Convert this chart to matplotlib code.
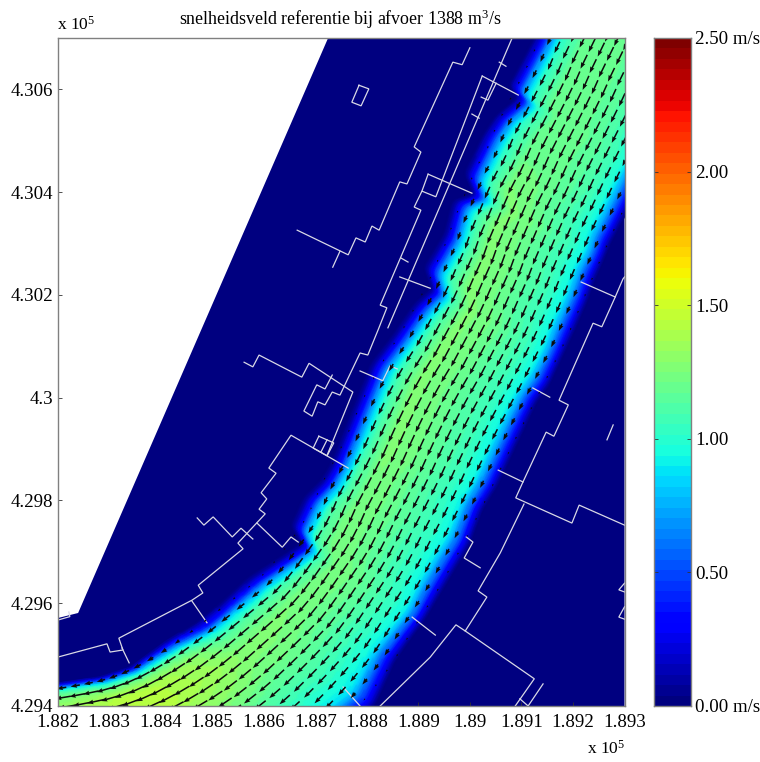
import numpy as np
import matplotlib
matplotlib.use("Agg")
import matplotlib.pyplot as plt

plt.rcParams['font.family'] = ['Liberation Serif', 'DejaVu Serif']
plt.rcParams['mathtext.fontset'] = 'custom'
plt.rcParams['mathtext.rm'] = 'Liberation Serif'
plt.rcParams['mathtext.default'] = 'rm'

# Map origin (m); every coordinate below is metres east / north of it
X0, Y0 = 188200, 429400
XMAX, YMAX = 1100, 1300

# River stations: left bank and right bank
left_x = [994, 923, 874, 891, 849, 825, 787, 804, 765, 748, 709, 723, 690, 645, 606,
          554, 529, 509, 476, 451, 470, 432, 368, 302, 268, 212, 141, 82, 1, -170]
left_y = [1452, 1300, 1208, 1185, 1150, 1115, 1037, 998, 985, 920, 854, 813, 784, 718, 668,
          537, 473, 440, 407, 352, 317, 292, 251, 190, 162, 128, 76, 57, 45, 21]
right_x = [1277, 1206, 1157, 1146, 1130, 1111, 1072, 1062, 1043, 1027, 1000, 979, 955, 930, 907,
           853, 825, 800, 775, 742, 713, 684, 655, 616, 568, 519, 412, 276, 121, -112]
right_y = [1316, 1164, 1072, 1047, 1014, 973, 897, 872, 829, 784, 722, 677, 625, 590, 541,
           426, 381, 313, 271, 216, 167, 128, 86, 0, -37, -76, -163, -202, -241, -280]

# Depth-averaged speed (m/s) at fractions of the river width, per station
width_frac = [0, .05, .1, .17, .3, .45, .6, .75, .85, .92, 1]
speed_top = [0, .25, .68, 1.02, 1.2, 1.2, 1.16, 1.08, .95, .58, 0]
speed_mid = [0, .22, .65, 1.05, 1.27, 1.22, 1.14, 1.05, .93, .58, 0]
speed_low = [0, .22, .68, 1.08, 1.25, 1.2, 1.12, 1.03, .92, .55, 0]
speed_bend = [0, .32, .88, 1.15, 1.28, 1.22, 1.12, 1.0, .88, .5, 0]
speed_a = [0, .6, 1.1, 1.3, 1.35, 1.28, 1.15, 1.02, .9, .5, 0]
speed_b = [0, .9, 1.25, 1.42, 1.42, 1.32, 1.2, 1.0, .9, .5, 0]
speed_c = [0, 1.05, 1.25, 1.35, 1.4, 1.35, 1.2, 1.0, .9, .5, 0]
station_speeds = [speed_top] * 6 + [speed_mid] * 10 + [speed_low] * 7 + \
                 [speed_bend] * 2 + [speed_a] + [speed_b] * 2 + [speed_c] * 2

# Dry-land limit of the model domain
domain_x = [525, 40, 0, 0, 1100, 1100]
domain_y = [1300, 181, 171, 0, 0, 1300]

# Groynes, quays and other map lines
map_lines = [
    ([800, 785, 767, 692, 705, 678, 664, 624, 610, 597, 579, 564, 465],
     [1281, 1248, 1253, 1088, 1078, 1016, 1020, 926, 934, 903, 911, 878, 926]),
    ([548, 534], [885, 854]),
    ([585, 604, 589, 571, 585], [1208, 1201, 1168, 1175, 1208]),
    ([882, 641], [1300, 736]),
    ([824, 734, 707, 692, 705, 626, 639, 622, 602, 587, 548, 533, 519, 505, 494, 478, 503, 519, 533],
     [1226, 991, 1002, 971, 965, 780, 775, 732, 683, 687, 605, 611, 586, 592, 564, 574, 625, 617, 644]),
    ([719, 707], [1035, 1002]),
    ([719, 804], [1035, 998]),
    ([824, 894], [1226, 1189]),
    ([851, 835, 822], [1212, 1179, 1185]),
    ([857, 870], [1253, 1245]),
    ([804, 818], [1152, 1144]),
    ([666, 680], [872, 864]),
    ([664, 723], [835, 813]),
    ([587, 631, 645, 659], [652, 633, 662, 656]),
    ([362, 379, 391, 474, 488, 573, 523], [669, 660, 683, 640, 667, 611, 488]),
    ([564, 453, 410, 424, 395, 406, 391, 403, 350, 360, 273, 282, 261, 119, 127, 102, 96, 0],
     [463, 527, 463, 453, 415, 403, 383, 374, 317, 306, 235, 220, 206, 132, 109, 105, 121, 95]),
    ([507, 536, 523, 496, 507], [525, 512, 487, 502, 525]),
    ([523, 511], [518, 494]),
    ([125, 139], [113, 84]),
    ([261, 290], [204, 162]),
    ([387, 436, 453, 467], [356, 309, 329, 319]),
    ([271, 284, 302, 339, 356, 379], [366, 352, 368, 329, 346, 325]),
    ([22, 24, 0], [183, 174, 167]),
    ([1100, 1097, 1082, 1056, 1039, 973, 991, 963, 948, 903, 889, 998, 1012, 1100],
     [835, 831, 796, 738, 745, 595, 586, 525, 533, 436, 405, 356, 391, 352]),
    ([1016, 1082], [825, 796]),
    ([922, 955], [619, 601]),
    ([1078, 1066], [547, 518]),
    ([855, 903], [459, 436]),
    ([905, 859, 816, 833, 791, 773, 723, 626], [393, 298, 224, 212, 146, 158, 95, 0]),
    ([791, 925, 888], [146, 53, 0]),
    ([897, 913, 942], [14, 0, 43]),
    ([793, 806, 789, 820], [329, 319, 288, 269]),
    ([688, 733], [173, 138]),
    ([1100, 1089, 1100], [239, 226, 222]),
    ([1100, 1089, 1100], [193, 173, 169]),
    ([554, 587], [37, 0]),
]

x_tick_vals = [0, 100, 200, 300, 400, 500, 600, 700, 800, 900, 1000, 1100]
x_tick_labels = ['1.882', '1.883', '1.884', '1.885', '1.886', '1.887',
                 '1.888', '1.889', '1.89', '1.891', '1.892', '1.893']
y_tick_vals = [0, 200, 400, 600, 800, 1000, 1200]
y_tick_labels = ['4.294', '4.296', '4.298', '4.3', '4.302', '4.304', '4.306']
cbar_ticks = [0, .5, 1, 1.5, 2, 2.5]
cbar_labels = ['0.00 m/s', '0.50', '1.00', '1.50', '2.00', '2.50 m/s']

cmap = matplotlib.colormaps['jet'].resampled(64)

# Curvilinear mesh through the stations
lx, ly, rx, ry = map(np.array, (left_x, left_y, right_x, right_y))
mx, my = (lx + rx) / 2, (ly + ry) / 2
chain = np.r_[0, np.cumsum(np.hypot(np.diff(mx), np.diff(my)))]
S = np.arange(0, chain[-1], 4.0)
F = np.linspace(0, 1, 81)
Lx, Ly = np.interp(S, chain, lx), np.interp(S, chain, ly)
Rx, Ry = np.interp(S, chain, rx), np.interp(S, chain, ry)


def smooth(a, n):
    k = np.ones(n) / n
    pad = np.pad(a, (n // 2, n - 1 - n // 2), mode='edge')
    return np.convolve(pad, k, mode='valid')


Lx, Ly, Rx, Ry = [smooth(a, 5) for a in (Lx, Ly, Rx, Ry)]
Xm = Lx[:, None] + (Rx - Lx)[:, None] * F[None, :]
Ym = Ly[:, None] + (Ry - Ly)[:, None] * F[None, :]
table = np.array(station_speeds, dtype=float)
tab_f = np.array([np.interp(F, width_frac, row) for row in table])
Sp = np.array([np.interp(S, chain, tab_f[:, j]) for j in range(F.size)]).T
Sp = np.apply_along_axis(smooth, 0, Sp, 9)
Sp = np.apply_along_axis(smooth, 1, Sp, 3)

# Arrow grid follows the mesh with the local notches smoothed out
Xs = np.apply_along_axis(smooth, 0, Xm, 61)
Ys = np.apply_along_axis(smooth, 0, Ym, 61)
dx, dy = np.gradient(Xs, axis=0), np.gradient(Ys, axis=0)
nrm = np.hypot(dx, dy)
U, V = Sp * dx / nrm, Sp * dy / nrm

fig = plt.figure(figsize=(7.6, 7.62), dpi=100)
W, H = 760, 762
ax = fig.add_axes([57.5 / W, (H - 706) / H, 567 / W, 668 / H])
ax.fill(domain_x, domain_y, color=cmap(0), lw=0, zorder=1)
ax.pcolormesh(Xm, Ym, Sp, shading='gouraud', cmap=cmap, vmin=0, vmax=2.5, zorder=2)
for xs, ys in map_lines:
    ax.plot(xs, ys, color='#d9d9e6', lw=0.9, zorder=3, solid_joinstyle='miter')

iS = np.arange(2, S.size, 9)
iF = np.arange(3, F.size - 1, 5)
gi, gj = np.meshgrid(iS, iF, indexing='ij')
keep = Sp[gi, gj] > 0.04
ax.quiver(Xs[gi, gj][keep], Ys[gi, gj][keep], U[gi, gj][keep], V[gi, gj][keep],
          angles='xy', scale_units='xy', scale=0.04, color='#0c0c0c', width=0.0027,
          headwidth=3.0, headlength=4.2, headaxislength=3.8, minlength=0.3, zorder=4,
          clip_on=True)

ax.set_xlim(0, XMAX)
ax.set_ylim(0, YMAX)
ax.set_xticks(x_tick_vals, x_tick_labels)
ax.set_yticks(y_tick_vals, y_tick_labels)
ax.tick_params(direction='in', length=3, width=0.6, color='#333333', labelsize=13.6, pad=3)
ax.tick_params(axis='x', pad=6)
for s in ax.spines.values():
    s.set_color('#808080')
    s.set_linewidth(1.0)
    s.set_zorder(5)

cax = fig.add_axes([654 / W, (H - 706) / H, 37 / W, 668 / H])
levels = np.linspace(0, 2.5, 64)[:, None]
cax.imshow(levels, origin='lower', aspect='auto', cmap=cmap, vmin=0, vmax=2.5,
           extent=[0, 1, 0, 2.5], interpolation='nearest')
cax.set_xticks([])
cax.set_yticks(cbar_ticks, cbar_labels)
cax.tick_params(axis='y', direction='in', length=3, width=0.6, color='#333333', left=True,
                right=True, labelleft=False, labelright=True, labelsize=13.6, pad=3)
for s in cax.spines.values():
    s.set_color('#808080')
    s.set_linewidth(1.0)

fig.text(340 / W, 1 - 19 / H, 'snelheidsveld referentie bij afvoer 1388 m$^{3}$/s',
         ha='center', va='center', fontsize=12.85)
fig.text(57 / W, 1 - 25 / H, 'x 10$^{5}$', ha='left', va='center', fontsize=12.5)
fig.text(587 / W, 1 - 749 / H, 'x 10$^{5}$', ha='left', va='center', fontsize=12.5)

fig.savefig('out.png', dpi=100)
